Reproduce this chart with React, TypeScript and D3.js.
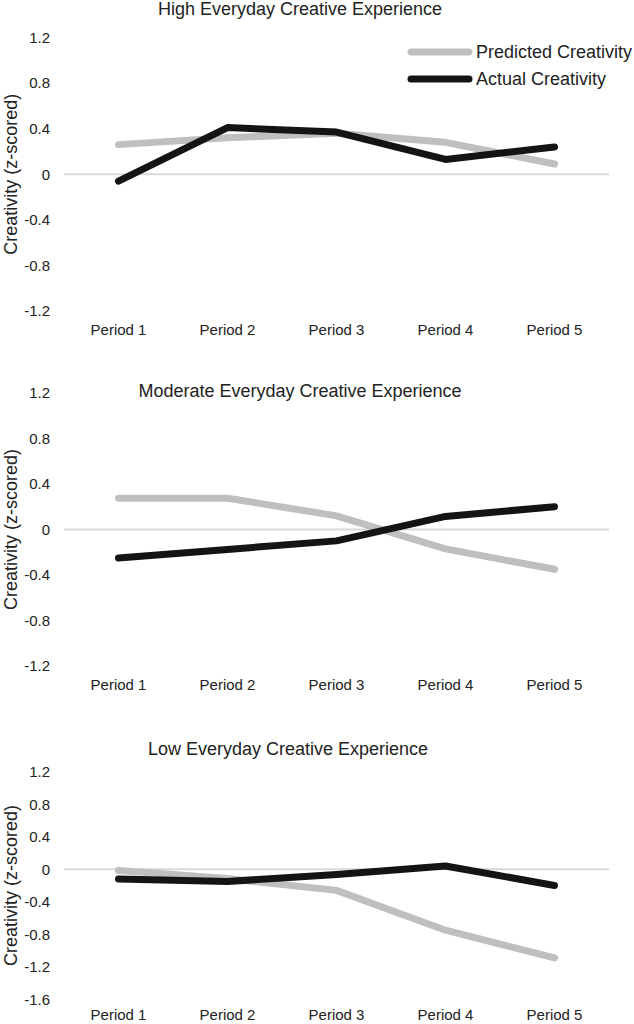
import React, { useEffect, useRef } from "react";
import * as d3 from "d3";

// categories
const periods = ["Period 1", "Period 2", "Period 3", "Period 4", "Period 5"];

// series values (z-scored creativity)
const highPredicted = [0.26, 0.32, 0.36, 0.28, 0.09];
const highActual = [-0.06, 0.41, 0.37, 0.13, 0.24];
const moderatePredicted = [0.275, 0.275, 0.12, -0.17, -0.35];
const moderateActual = [-0.25, -0.175, -0.1, 0.115, 0.2];
const lowPredicted = [-0.015, -0.115, -0.26, -0.75, -1.09];
const lowActual = [-0.12, -0.15, -0.065, 0.04, -0.2];

// tick labels
const ticksStandard = [1.2, 0.8, 0.4, 0, -0.4, -0.8, -1.2];
const ticksLow = [1.2, 0.8, 0.4, 0, -0.4, -0.8, -1.2, -1.6];

const titles = [
  "High Everyday Creative Experience",
  "Moderate Everyday Creative Experience",
  "Low Everyday Creative Experience",
];

const legendLabels = ["Predicted Creativity", "Actual Creativity"];

const W = 634;
const H = 1024;
const FONT = "'Liberation Sans', Arial, sans-serif";
const GREY = "#bfbfbf";
const BLACK = "#141414";

const App: React.FC = () => {
  const ref = useRef<SVGSVGElement | null>(null);

  useEffect(() => {
    const svg = d3.select(ref.current);
    svg.selectAll("*").remove();

    const panels = [
      { title: titles[0], predicted: highPredicted, actual: highActual, ticks: ticksStandard, top: 37.5, bottom: 311, labelY: 335, titleY: 15, titleX: 300, legend: true },
      { title: titles[1], predicted: moderatePredicted, actual: moderateActual, ticks: ticksStandard, top: 393, bottom: 666, labelY: 690, titleY: 397, titleX: 300, legend: false },
      { title: titles[2], predicted: lowPredicted, actual: lowActual, ticks: ticksLow, top: 771.7, bottom: 999.3, labelY: 1020, titleY: 755, titleX: 288, legend: false },
    ];

    const x = d3.scaleBand().domain(periods).range([64, 609]);

    panels.forEach((p) => {
      const g = svg.append("g");
      const y = d3
        .scaleLinear()
        .domain([d3.min(p.ticks)!, d3.max(p.ticks)!])
        .range([p.bottom, p.top]);

      // y axis labels
      const ya = g
        .append("g")
        .attr("transform", "translate(50,0)")
        .call(
          d3
            .axisLeft(y)
            .tickValues(p.ticks)
            .tickSize(0)
            .tickPadding(0)
            .tickFormat((d) => (+d === 0 ? "0" : (+d).toFixed(1)))
        );
      ya.select(".domain").remove();
      ya.selectAll("text")
        .attr("font-family", FONT)
        .attr("font-size", 15)
        .attr("fill", "#222");

      // zero line
      g.append("line")
        .attr("x1", x.range()[0])
        .attr("x2", x.range()[1])
        .attr("y1", y(0))
        .attr("y2", y(0))
        .attr("stroke", "#d9d9d9")
        .attr("stroke-width", 2);

      // x labels
      g.selectAll("text.cat")
        .data(periods)
        .enter()
        .append("text")
        .attr("class", "cat")
        .attr("x", (d) => x(d)! + x.bandwidth() / 2)
        .attr("y", p.labelY)
        .attr("text-anchor", "middle")
        .attr("font-family", FONT)
        .attr("font-size", 15)
        .attr("fill", "#222")
        .text((d) => d);

      // title
      g.append("text")
        .attr("x", p.titleX)
        .attr("y", p.titleY)
        .attr("text-anchor", "middle")
        .attr("font-family", FONT)
        .attr("font-size", 18)
        .attr("fill", "#222")
        .text(p.title);

      // y axis title
      g.append("text")
        .attr("transform", `translate(17,${(p.top + p.bottom) / 2}) rotate(-90)`)
        .attr("text-anchor", "middle")
        .attr("font-family", FONT)
        .attr("font-size", 18)
        .attr("fill", "#222")
        .text("Creativity (z-scored)");

      const line = d3
        .line<number>()
        .x((_d, i) => x(periods[i])! + x.bandwidth() / 2)
        .y((d) => y(d));

      g.append("path")
        .attr("d", line(p.predicted))
        .attr("fill", "none")
        .attr("stroke", GREY)
        .attr("stroke-width", 7)
        .attr("stroke-linejoin", "round")
        .attr("stroke-linecap", "round");

      g.append("path")
        .attr("d", line(p.actual))
        .attr("fill", "none")
        .attr("stroke", BLACK)
        .attr("stroke-width", 7)
        .attr("stroke-linejoin", "round")
        .attr("stroke-linecap", "round");

      if (p.legend) {
        const colors = [GREY, BLACK];
        const lg = g.append("g");
        legendLabels.forEach((label, i) => {
          const ly = 52 + i * 27;
          lg.append("line")
            .attr("x1", 411)
            .attr("x2", 469)
            .attr("y1", ly)
            .attr("y2", ly)
            .attr("stroke", colors[i])
            .attr("stroke-width", 7)
            .attr("stroke-linecap", "round");
          lg.append("text")
            .attr("x", 476)
            .attr("y", ly)
            .attr("dy", "0.35em")
            .attr("font-family", FONT)
            .attr("font-size", 18)
            .attr("fill", "#222")
            .text(label);
        });
      }
    });
  }, []);

  return (
    <svg
      ref={ref}
      width={W}
      height={H}
      style={{ position: "absolute", left: 0, top: 0, background: "#fff" }}
    />
  );
};

export default App;
